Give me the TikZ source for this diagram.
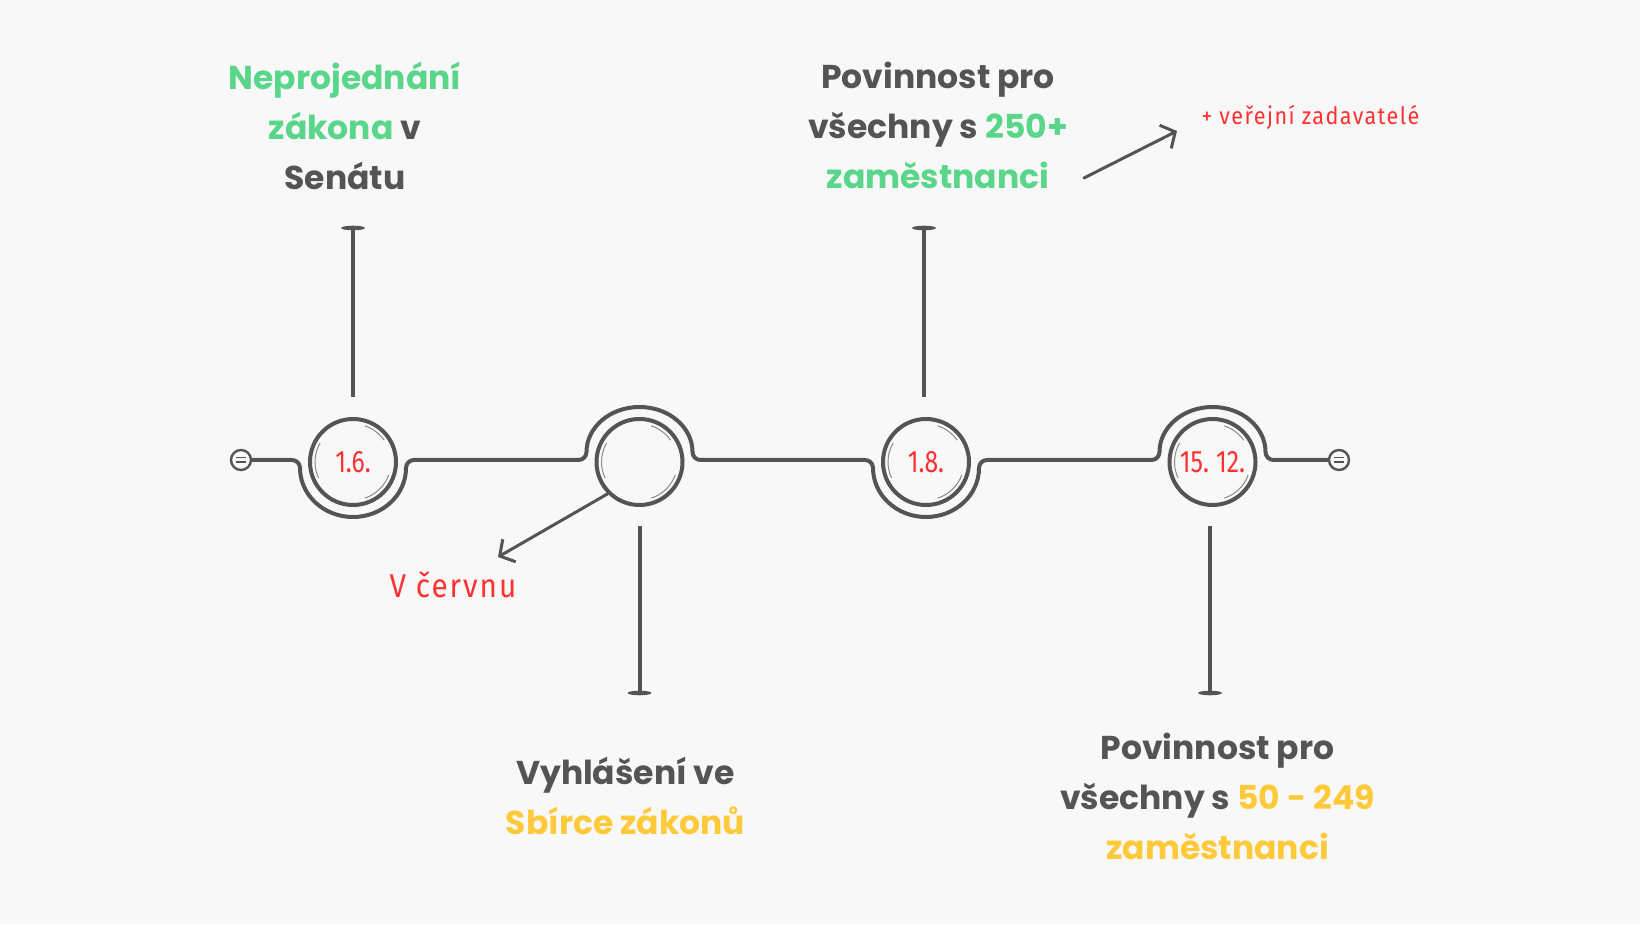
\documentclass[tikz,border=0pt]{standalone}
\usepackage{fontspec}
\setmainfont{Poppins}
\newfontfamily\hand{Fira Sans}[FakeStretch=0.9, LetterSpace=6]
\newfontfamily\handd{Fira Sans}[FakeStretch=0.8]
\usetikzlibrary{calc,arrows.meta}
\definecolor{bg}{HTML}{F8F8F8}
\definecolor{ink}{HTML}{545454}
\definecolor{grn}{HTML}{5AD68B}
\definecolor{ylw}{HTML}{FFCA3A}
\definecolor{hred}{HTML}{FF3131}
\definecolor{sketch}{HTML}{8A8A8A}
\tikzset{
  tl/.style={draw=ink, line width=4pt, line cap=round, line join=round},
  dotc/.style={circle, draw=ink, line width=4pt, minimum size=86pt, inner sep=0pt, text=hred, font=\handd\fontsize{31}{31}\selectfont},
  enddot/.style={circle, draw=ink, line width=2.4pt, fill=bg, minimum size=20pt, inner sep=0pt},
  stem/.style={draw=ink, line width=4pt},
  sk/.style={draw=sketch, line width=1pt},
  lbl/.style={align=center, text=ink, font=\bfseries\fontsize{33}{50}\selectfont},
  note/.style={text=hred},
  arr/.style={draw=ink, line width=3pt, line cap=round, -{Straight Barb[length=11pt,width=26pt]}},
}
\begin{document}
\begin{tikzpicture}[x=1pt,y=1pt]
\fill[bg] (0,0) rectangle (1640,924);
\useasboundingbox (0,0) rectangle (1640,924);

% end dots
\node[enddot] (e1) at (241,464) {};
\node[enddot] (e2) at (1339,464) {};

% timeline
\draw[tl] (e1.east)
  -- (292,464) arc[start angle=90,end angle=0,radius=8]
     arc[start angle=180,end angle=360,x radius=53,y radius=49]
     arc[start angle=180,end angle=90,radius=8]
  -- (578.5,464) arc[start angle=270,end angle=360,radius=8]
     arc[start angle=180,end angle=0,x radius=53,y radius=45]
     arc[start angle=180,end angle=270,radius=8]
  -- (865,464) arc[start angle=90,end angle=0,radius=8]
     arc[start angle=180,end angle=360,x radius=53,y radius=49]
     arc[start angle=180,end angle=90,radius=8]
  -- (1151.5,464) arc[start angle=270,end angle=360,radius=8]
     arc[start angle=180,end angle=0,x radius=53,y radius=45]
     arc[start angle=180,end angle=270,radius=8]
  -- (e2.west);

% end dot inner marks
\foreach \ee in {e1,e2}{
  \draw[ink, line width=1.6pt] ($(\ee)+(-5,2.5)$) -- ($(\ee)+(5,2.5)$);
  \draw[ink, line width=1.6pt] ($(\ee)+(-5,-2)$) -- ($(\ee)+(5,-2)$);
}

% milestone circles
\node[dotc, fill=bg] (c1) at (353,462) {1.6.};
\node[dotc, fill=bg] (c2) at (639.5,462) {};
\node[dotc, fill=bg] (c3) at (926,462) {1.8.};
\node[dotc, fill=bg] (c4) at (1212.5,462) {15.\hspace{7pt}12.};

% sketchy inner strokes
\foreach \cc in {c1,c2,c3,c4}{
  \draw[sk] ($(\cc)+(35:38)$) arc[start angle=35,end angle=72,radius=38];
  \draw[sk] ($(\cc)+(-20:38)$) arc[start angle=-20,end angle=-72,radius=38];
  \draw[sk] ($(\cc)+(150:38)$) arc[start angle=150,end angle=205,radius=38];
}

% stems
\coordinate (s1a) at (353,696);
\coordinate (s1b) at (353,527);
\coordinate (s3a) at (924,696);
\coordinate (s3b) at (924,527);
\coordinate (s2a) at (639.5,398);
\coordinate (s2b) at (639.5,231);
\coordinate (s4a) at (1210,398);
\coordinate (s4b) at (1210,231);
\draw[stem] (s1b) -- (s1a);
\draw[stem] (s3b) -- (s3a);
\draw[stem] (s2a) -- (s2b);
\draw[stem] (s4a) -- (s4b);
\foreach \pp in {s1a,s3a,s2b,s4b}{
  \fill[ink] (\pp) ellipse[x radius=12, y radius=2.3];
}

% labels
\node[lbl] (t1) at (345,798.5) {{\color{grn}Neprojednání}\\{\color{grn}zákona} v\\Senátu};
\node[lbl] (t2) at (938,798.5) {Povinnost pro\\všechny s {\color{grn}250+}\\{\color{grn}zaměstnanci}};
\node[lbl] (t3) at (625.5,128) {Vyhlášení ve\\{\color{ylw}Sbírce zákonů}};
\node[lbl] (t4) at (1217.5,128) {Povinnost pro\\všechny s {\color{ylw}50 - 249}\\{\color{ylw}zaměstnanci}};

% notes and arrows
\node[note, font=\hand\fontsize{33}{33}\selectfont] (n1) at (453,339) {V červnu};
\coordinate (a1) at (498,367);
\draw[arr] (c2.225) -- (a1);
\node[note, font=\hand\fontsize{24}{24}\selectfont, anchor=west] (n2) at (1198,807) {+ veřejní zadavatelé};
\coordinate (a2s) at (1084,746);
\coordinate (a2e) at (1177,793);
\draw[arr] (a2s) -- (a2e);
\end{tikzpicture}
\end{document}
